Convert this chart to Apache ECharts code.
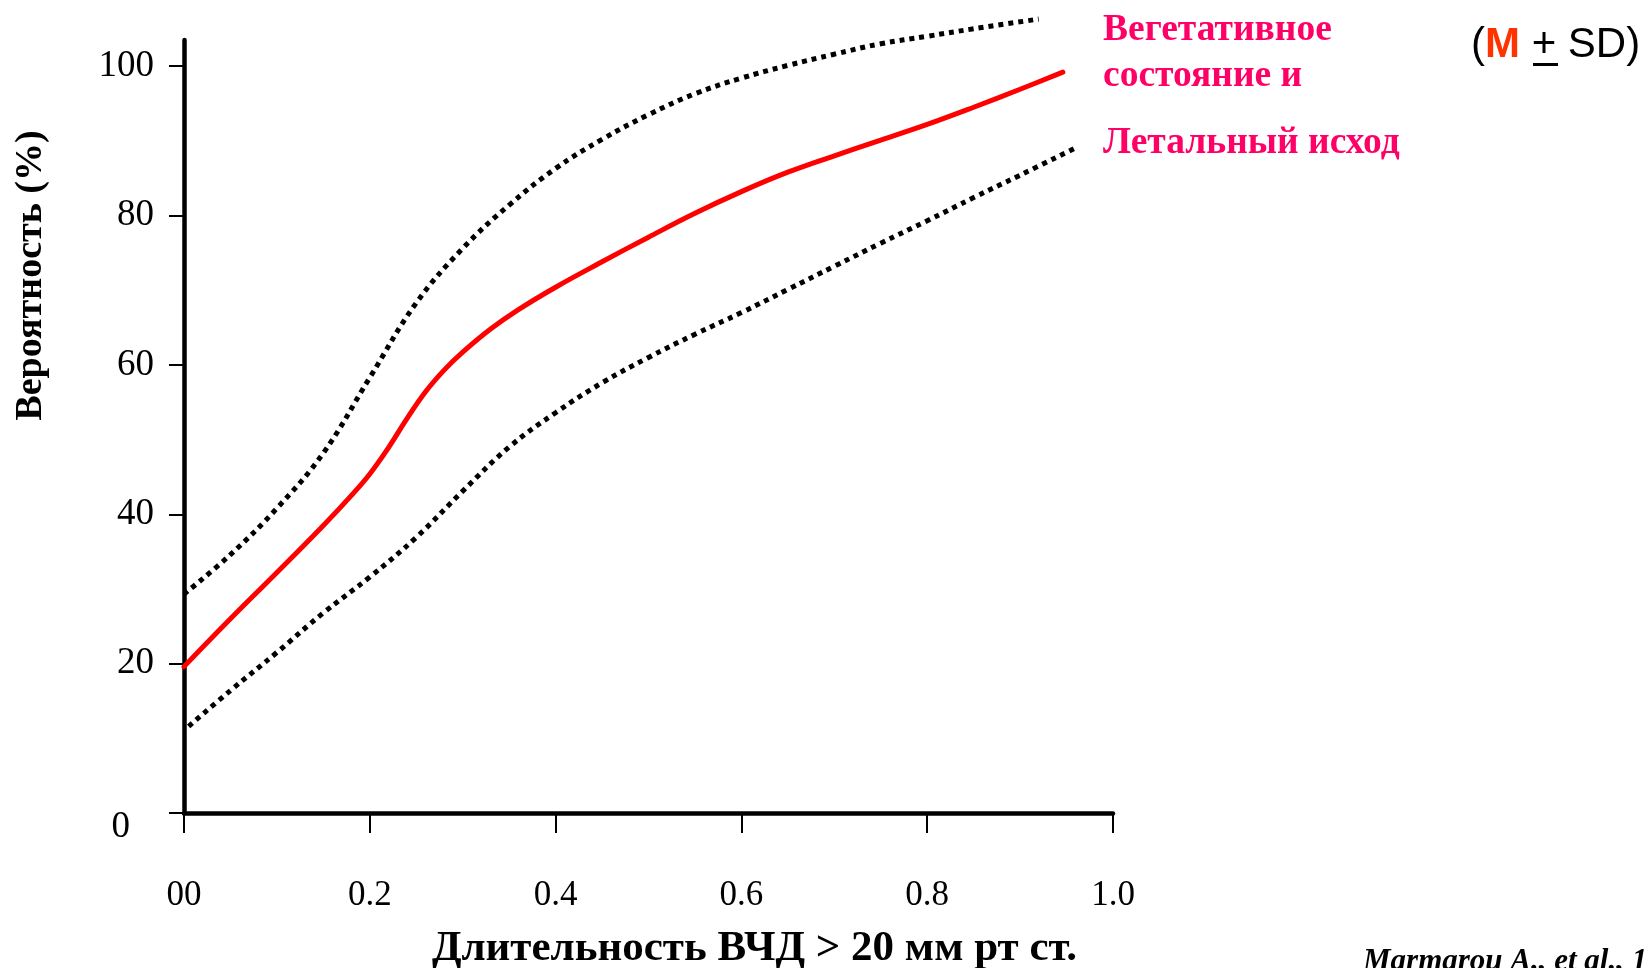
<!DOCTYPE html>
<html>
<head>
<meta charset="utf-8">
<script src="https://cdn.jsdelivr.net/npm/echarts@6/dist/echarts.min.js"></script>
<style>
  html, body { margin: 0; padding: 0; background: #fff; }
  #chart { width: 1647px; height: 968px; }
</style>
</head>
<body>
<div id="chart"></div>
<script>
// Axis ticks
const xTickLabels = ['00', '0.2', '0.4', '0.6', '0.8', '1.0'];
const yTickValues = [0, 20, 40, 60, 80, 100];

// Probability of vegetative state / death vs. share of time with ICP > 20 mm Hg
// [fraction of time, probability %]
const meanCurve = [
  [0.00, 19.6], [0.05, 26.0], [0.10, 32.2], [0.15, 38.5], [0.18, 42.5],
  [0.20, 45.4], [0.22, 48.9], [0.24, 52.8], [0.26, 56.4], [0.28, 59.3],
  [0.30, 61.7], [0.33, 64.8], [0.36, 67.4], [0.40, 70.4], [0.45, 73.8],
  [0.50, 77.1], [0.55, 80.3], [0.60, 83.2], [0.65, 85.8], [0.70, 88.0],
  [0.75, 90.1], [0.80, 92.2], [0.85, 94.5], [0.90, 96.9], [0.946, 99.2]
];
// Mean + SD
const upperCurve = [
  [0.00, 29.3], [0.05, 34.6], [0.10, 40.8], [0.15, 48.2], [0.20, 58.3],
  [0.25, 68.3], [0.30, 75.6], [0.35, 81.4], [0.40, 86.3], [0.45, 90.2],
  [0.50, 93.5], [0.55, 96.3], [0.60, 98.4], [0.65, 100.1], [0.70, 101.6],
  [0.75, 103.0], [0.80, 104.0], [0.85, 105.0], [0.92, 106.3]
];
// Mean - SD
const lowerCurve = [
  [0.005, 11.6], [0.05, 16.4], [0.10, 21.5], [0.15, 26.8], [0.20, 31.6],
  [0.25, 36.9], [0.30, 43.1], [0.35, 49.0], [0.40, 53.6], [0.45, 57.6],
  [0.50, 61.0], [0.55, 64.1], [0.60, 67.0], [0.65, 70.1], [0.70, 73.2],
  [0.75, 76.3], [0.80, 79.3], [0.85, 82.4], [0.90, 85.4], [0.962, 89.2]
];

const serif = '"Liberation Serif", "Times New Roman", serif';
const sans = '"Liberation Sans", Arial, sans-serif';
const pink = '#FF0066';

const chart = echarts.init(document.getElementById('chart'), null, { renderer: 'canvas' });

const sdLine = {
  color: '#000',
  width: 5,
  type: [5, 5],
  cap: 'butt'
};

chart.setOption({
  animation: false,
  backgroundColor: '#fff',
  grid: {
    left: 184, right: 534, top: 40, bottom: 155,
    containLabel: false,
    outerBoundsMode: 'none'
  },
  xAxis: {
    type: 'value',
    min: 0,
    max: 1,
    interval: 0.2,
    name: 'Длительность ВЧД > 20 мм рт ст.',
    nameLocation: 'middle',
    nameGap: 114,
    nameTextStyle: {
      fontFamily: serif, fontSize: 43, fontWeight: 'bold', color: '#000',
      padding: [0, 0, 0, 212]
    },
    axisLine: { show: true, onZero: false, lineStyle: { color: '#000', width: 4.5 } },
    axisTick: { show: true, length: 20, lineStyle: { color: '#000', width: 2 } },
    axisLabel: {
      margin: 65,
      fontFamily: serif,
      fontSize: 35,
      color: '#000',
      formatter: (v, i) => xTickLabels[i] ?? ''
    },
    splitLine: { show: false }
  },
  yAxis: {
    type: 'value',
    min: 0,
    max: 103.5,
    name: 'Вероятность (%)',
    nameLocation: 'middle',
    nameGap: 134,
    nameRotate: 90,
    nameTextStyle: {
      fontFamily: serif, fontSize: 38, fontWeight: 'bold', color: '#000',
      padding: [0, 0, 0, 302]
    },
    axisLine: { show: true, onZero: false, lineStyle: { color: '#000', width: 4.5 } },
    axisTick: {
      show: true, length: 15, customValues: yTickValues,
      lineStyle: { color: '#000', width: 2 }
    },
    axisLabel: {
      margin: 30,
      customValues: yTickValues,
      fontFamily: serif,
      fontSize: 37,
      color: '#000',
      formatter: v => (v === 0 ? '{z|0}' : String(v)),
      rich: {
        z: { fontFamily: serif, fontSize: 37, color: '#000', padding: [28, 24, 0, 0] }
      }
    },
    splitLine: { show: false }
  },
  series: [
    {
      name: 'M + SD',
      type: 'line',
      data: upperCurve,
      smooth: 0.4,
      showSymbol: false,
      clip: false,
      lineStyle: sdLine,
      z: 3
    },
    {
      name: 'M - SD',
      type: 'line',
      data: lowerCurve,
      smooth: 0.4,
      showSymbol: false,
      clip: false,
      lineStyle: sdLine,
      z: 3
    },
    {
      name: 'M',
      type: 'line',
      data: meanCurve,
      smooth: 0.4,
      showSymbol: false,
      clip: false,
      lineStyle: { color: '#FF0000', width: 5, cap: 'round' },
      z: 4
    }
  ],
  graphic: [
    {
      type: 'text', left: 1103, top: 11,
      style: { text: 'Вегетативное', fontFamily: serif, fontSize: 37.5, fontWeight: 'bold', fill: pink }
    },
    {
      type: 'text', left: 1103, top: 57,
      style: { text: 'состояние и', fontFamily: serif, fontSize: 37.5, fontWeight: 'bold', fill: pink }
    },
    {
      type: 'text', left: 1103, top: 124,
      style: { text: 'Летальный исход', fontFamily: serif, fontSize: 37.5, fontWeight: 'bold', fill: pink }
    },
    {
      type: 'text', left: 1471, top: 24,
      style: {
        text: '({m|M} + SD)',
        fontFamily: sans, fontSize: 42, fill: '#000',
        rich: {
          m: { fontFamily: sans, fontSize: 42, fontWeight: 'bold', fill: '#FF3300' }
        }
      }
    },
    {
      type: 'rect', left: 1533, top: 63,
      shape: { width: 25, height: 3 },
      style: { fill: '#000' }
    },
    {
      type: 'text', left: 1363, top: 946,
      style: {
        text: 'Marmarou A., et al., 1991',
        fontFamily: serif, fontSize: 31, fontWeight: 'bold', fontStyle: 'italic', fill: '#000'
      }
    }
  ]
});
</script>
</body>
</html>
